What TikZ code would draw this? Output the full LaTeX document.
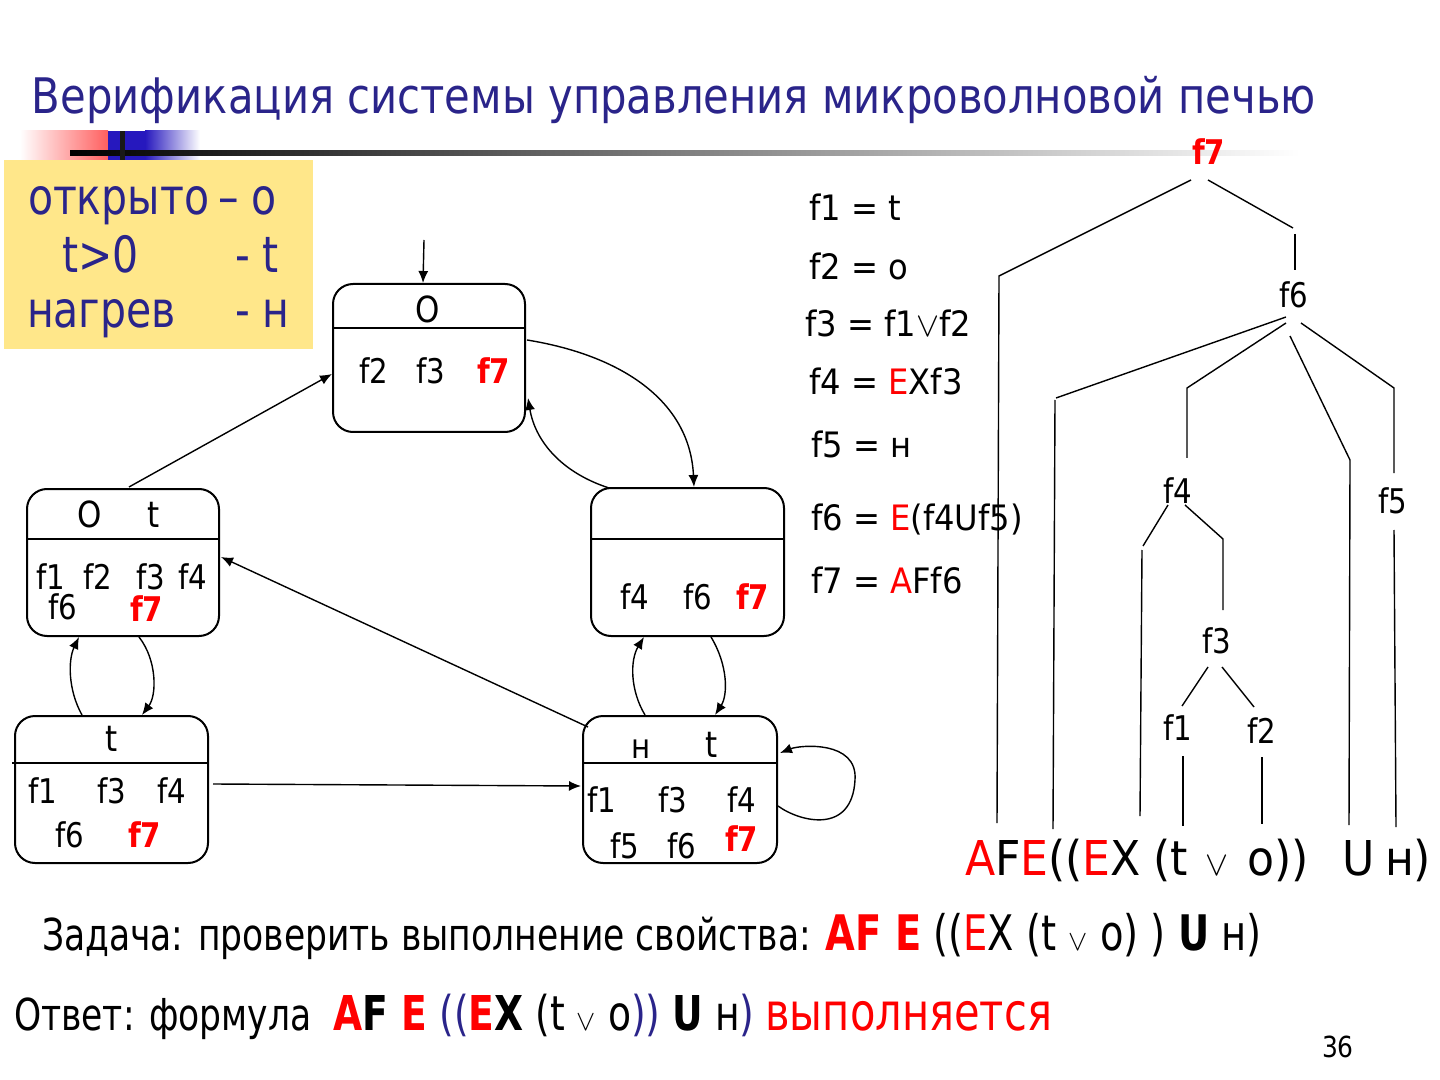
\documentclass[tikz,border=0pt]{standalone}
\usepackage{fontspec}
\setmainfont{DejaVu Sans}[FakeStretch=0.86]
\newfontfamily\titf{DejaVu Sans}[FakeStretch=0.852]
\newfontfamily\deff{DejaVu Sans}[FakeStretch=0.92]
\newfontfamily\legf{DejaVu Sans}[FakeStretch=0.82]
\newfontfamily\condf{DejaVu Sans}[FakeStretch=0.785]
\newfontfamily\condg{DejaVu Sans}[FakeStretch=0.8]
\usetikzlibrary{arrows.meta,calc}
\definecolor{navy}{RGB}{42,36,138}
\definecolor{pale}{RGB}{255,231,138}
\definecolor{ored}{RGB}{255,0,0}
\definecolor{hblue}{RGB}{38,24,190}
\definecolor{hred}{RGB}{255,95,95}
\newcommand{\setfs}[1]{\fontsize{#1}{#1}\selectfont}
\newcommand{\smor}[1]{{\setfs{#1}\ensuremath{\vee}}}
\begin{document}
\begin{tikzpicture}[x=0.5pt,y=-0.5pt,
  txt/.style={anchor=base west, inner sep=0pt, outer sep=0pt},
  stt/.style={txt, font=\setfs{17}},
  dft/.style={txt, font=\deff\setfs{17.5}},
  st/.style={draw, line width=1pt, rounded corners=10pt, inner sep=0pt},
  arr/.style={-{Latex[length=6pt,width=5pt]}, line width=0.7pt},
  tl/.style={line width=0.7pt},
  red7/.style={stt, font=\setfs{17}\bfseries, text=ored}]
\useasboundingbox (0,0) rectangle (1440,1080);

% header decoration
\shade[left color=white, right color=hred] (20,131) rectangle (108,160);
\fill[hblue] (108,131) rectangle (145,160);
\shade[left color=hblue, right color=white] (145,131) rectangle (200,160);
\shade[left color=black, right color=white] (70,151) rectangle (1300,156);
\fill[black!90] (120,131) rectangle (125,160);
\fill[pale] (4,160) rectangle (313,349);

% title
\node[txt, font=\titf\setfs{24.5}, text=navy] (title) at (32,114) {Верификация системы управления микроволновой печью};

% legend
\begin{scope}[every node/.style={txt, font=\legf\setfs{25}, text=navy}]
\node (l1a) at (28,215) {открыто};
\node (l1b) at (218,215) {– о};
\node (l2a) at (62,273) {t>0};
\node (l2b) at (235,273) {- t};
\node (l3a) at (27,328) {нагрев};
\node (l3b) at (235,328) {- н};
\end{scope}

% states
\node[st, minimum width=96pt, minimum height=74pt] (s0) at (429,358) {};
\node[st, minimum width=96pt, minimum height=73.5pt] (s1) at (123,562.5) {};
\node[st, minimum width=96.5pt, minimum height=74pt] (s2) at (687.5,562) {};
\node[st, minimum width=96.5pt, minimum height=73.5pt] (s3) at (111.5,789.5) {};
\node[st, minimum width=97pt, minimum height=73.5pt] (s4) at (680,789.5) {};

\draw[line width=0.9pt] ($(s0.north west)+(0,45)$) -- ($(s0.north east)+(0,45)$);
\draw[line width=0.9pt] ($(s1.north west)+(0,51)$) -- ($(s1.north east)+(0,51)$);
\draw[line width=0.9pt] ($(s2.north west)+(0,52)$) -- ($(s2.north east)+(0,52)$);
\draw[line width=0.9pt] ($(s3.north west)+(-2,48)$) -- ($(s3.north east)+(0,48)$);
\draw[line width=0.9pt] ($(s4.north west)+(0,48)$) -- ($(s4.north east)+(0,48)$);

% state labels
\node[txt, font=\setfs{18}] (s0h) at (415,323) {O};
\node[stt] (s0a) at (359,384) {f2};
\node[stt] (s0b) at (416,384) {f3};
\node[red7] (s0c) at (477,384) {f7};

\node[txt, font=\setfs{18}] (s1h) at (77,527) {O};
\node[txt, font=\setfs{18}] (s1t) at (147,527) {t};
\node[stt] (s1a) at (36,589) {f1};
\node[stt] (s1b) at (83,589) {f2};
\node[stt] (s1c) at (136,589) {f3};
\node[stt] (s1d) at (178,589) {f4};
\node[stt] (s1e) at (48,619) {f6};
\node[red7] (s1f) at (130,621) {f7};

\node[stt] (s2a) at (620,609) {f4};
\node[stt] (s2b) at (683,609) {f6};
\node[red7] (s2c) at (736,609) {f7};

\node[txt, font=\setfs{18}] (s3t) at (105,751) {t};
\node[stt] (s3a) at (28,803) {f1};
\node[stt] (s3b) at (97,803) {f3};
\node[stt] (s3c) at (157,803) {f4};
\node[stt] (s3d) at (55,847) {f6};
\node[red7] (s3e) at (128,847) {f7};

\node[txt, font=\setfs{17}] (s4h) at (631,758) {н};
\node[txt, font=\setfs{18}] (s4t) at (705,757) {t};
\node[stt] (s4a) at (587,812) {f1};
\node[stt] (s4b) at (658,812) {f3};
\node[stt] (s4c) at (727,812) {f4};
\node[stt] (s4d) at (610,858) {f5};
\node[stt] (s4e) at (667,858) {f6};
\node[red7] (s4f) at (725,851) {f7};

% transitions
\coordinate (init) at (424,240);
\draw[arr] (init) -- ($(s0.north west)+(91,0)$);
\draw[arr] ($(s1.north west)+(103,-1)$) -- ($(s0.north west)+(0,91)$);
\draw[arr] ($(s0.north east)+(1,57)$) .. controls (620,355) and (690,400) .. ($(s2.north west)+(104,0)$);
\draw[arr] ($(s2.north west)+(19,1)$) .. controls (560,472) and (535,440) .. ($(s0.north east)+(2,115)$);
\draw[arr] ($(s4.north west)+(6,12)$) -- ($(s1.north east)+(1,69)$);
\draw[arr] ($(s3.north east)+(4,69)$) -- ($(s4.north west)+(-1,71)$);
\draw[arr] ($(s3.north west)+(68,0)$) .. controls (68,690) and (68,660) .. ($(s1.south west)+(53,0)$);
\draw[arr] ($(s1.south west)+(113,0)$) .. controls (157,660) and (157,695) .. ($(s3.north west)+(128,0)$);
\draw[arr] ($(s4.north west)+(63,0)$) .. controls (630,690) and (630,660) .. ($(s2.south west)+(54,0)$);
\draw[arr] ($(s2.south west)+(121,0)$) .. controls (728,665) and (728,695) .. ($(s4.north west)+(133,0)$);
\draw[arr] ($(s4.north east)+(0,91)$) .. controls (800,822) and (852,835) .. (855,780) .. controls (858,740) and (800,745) .. ($(s4.north east)+(2,38)$);

% definitions
\begin{scope}[every node/.style={dft}]
\node (d1) at (809,221) {f1 = t};
\node (d2) at (809,280) {f2 = o};
\node (d3) at (805,337) {f3 = f1\smor{17.5}f2};
\node (d4) at (809,395) {f4 = \textcolor{ored}{E}Xf3};
\node (d5) at (811,458) {f5 = н};
\node (d6) at (811,530) {f6 = \textcolor{ored}{E}(f4Uf5)};
\node (d7) at (811,593) {f7 = \textcolor{ored}{A}Ff6};
\end{scope}

% tree
\node[red7] (t7) at (1192,165) {f7};
\node[stt] (t6) at (1279,308) {f6};
\node[stt] (t4) at (1163,503) {f4};
\node[stt] (t5) at (1378,513) {f5};
\node[stt] (t3) at (1202,653) {f3};
\node[stt] (t1) at (1163,740) {f1};
\node[stt] (t2) at (1247,743) {f2};

\draw[tl] (1191,180) -- (999,276) -- (997,823);
\draw[tl] (1208,180) -- (1293,228);
\draw[tl] (1295,234) -- (1295,270);
\draw[tl] (1286,317) -- (1056,398);
\draw[tl] (1055,400) -- (1053,829);
\draw[tl] (1286,323) -- (1187,388) -- (1187,458);
\draw[tl] (1290,336) -- (1350,460) -- (1349,825);
\draw[tl] (1301,323) -- (1394,388) -- (1394,473);
\draw[tl] (1394,530) -- (1396,827);
\draw[tl] (1168,505) -- (1143,546);
\draw[tl] (1142,550) -- (1140,816);
\draw[tl] (1185,505) -- (1223,539) -- (1223,610);
\draw[tl] (1208,667) -- (1182,706);
\draw[tl] (1222,667) -- (1254,707);
\draw[tl] (1183,756) -- (1183,826);
\draw[tl] (1262,757) -- (1262,824);

% bottom formula under tree
\begin{scope}[every node/.style={txt, font=\deff\setfs{24}}]
\node (bA) at (965,875) {\textcolor{ored}{A}F\textcolor{ored}{E}((\textcolor{ored}{E}X};
\node (bB) at (1153,875) {(t};
\node (bC) at (1205,875) {\smor{17.5}};
\node (bD) at (1247,875) {o))};
\node (bE) at (1342,875) {U};
\node (bF) at (1385,875) {н)};
\end{scope}

% task and answer
\node[txt, font=\condf\setfs{22}] (task) at (42,950) {Задача: проверить выполнение свойства: {\setfs{24.5}\textbf{\textcolor{ored}{AF E}} ((\textcolor{ored}{E}X (t \smor{14} o) ) \textbf{U} н)}};
\node[txt, font=\condf\setfs{22}] (ans) at (14,1030) {Ответ: формула\ \ {\setfs{24}\textbf{\textcolor{ored}{A}F \textcolor{ored}{E}} \textcolor{navy}{((}\textbf{\textcolor{ored}{E}X} (t \smor{14} o\textcolor{navy}{))} \textbf{U} н\textcolor{navy}{)}} {\condg\setfs{26}\textcolor{ored}{выполняется}}};

\node[txt, font=\setfs{14.5}] (pg) at (1322,1057) {36};
\end{tikzpicture}
\end{document}
